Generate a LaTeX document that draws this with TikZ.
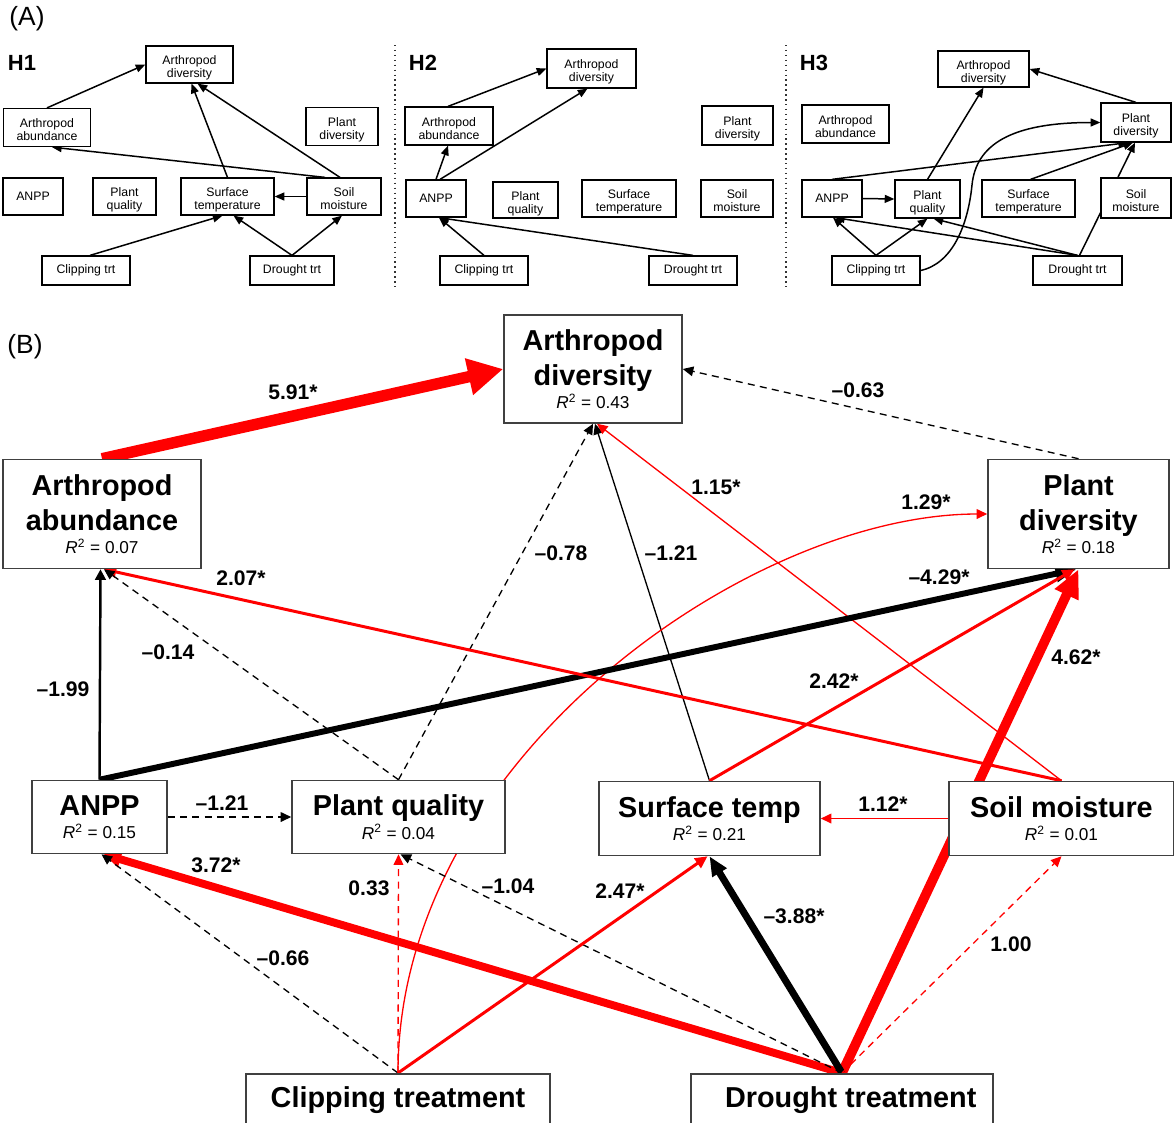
\documentclass[tikz,border=0pt]{standalone}
\usepackage{fontspec}
\setmainfont{Liberation Sans}
\usepackage{xcolor}
\definecolor{boxgray}{RGB}{64,64,64}
\usetikzlibrary{arrows.meta,calc,backgrounds}

\newcommand{\rsq}[1]{{\mdseries\fontsize{9.8}{11}\selectfont\textit{R}\textsuperscript{2} = #1}}

\begin{document}
\begin{tikzpicture}[x=0.02cm,y=-0.02cm,>={Triangle[length=5.5pt,width=4.5pt]},
	boxA/.style={draw,line width=0.7pt,fill=white,inner sep=0pt,align=center,font=\fontsize{7}{7.4}\selectfont},
	ln1/.style={},
	ln2/.style={text height=15.2pt,text depth=0pt},
	boxB/.style={draw=boxgray,line width=0.9pt,fill=white,inner sep=0pt,align=center,font=\bfseries\fontsize{16.4}{19.8}\selectfont},
	linkA/.style={line width=0.85pt,->},
	wt/.style n args={3}{line width=#1,-{Triangle[length=#2,width=#3]}},
	dsh/.style={line width=0.75pt,dash pattern=on 4pt off 3pt,-{Triangle[length=6pt,width=5.5pt]}},
	lab/.style={font=\bfseries\fontsize{12}{14}\selectfont,inner sep=0pt}]
	\useasboundingbox (0,0) rectangle (1174,1123);
	
	% (A) three hypotheses
	\node (tA) at (27,19) {\fontsize{15}{17}\selectfont (A)};
	\foreach \n/\x in {H1/22,H2/423,H3/814}
		\node[font=\bfseries\fontsize{12.5}{14}\selectfont] (\n) at (\x,63) {\n};
	\foreach \n/\x/\y/\w/\h/\s/\t in {
		ad1/189.5/64.5/87/37/ln2/{Arthropod\\diversity}, ab1/47/127.5/87/38/ln2/{Arthropod\\abundance},
		pd1/342/126.5/72/38/ln2/{Plant\\diversity}, an1/33/196.5/60/37/ln1/ANPP,
		pq1/124.5/196.5/63/37/ln2/{Plant\\quality}, st1/227.5/196.5/93/37/ln2/{Surface\\temperature},
		sm1/344/196.5/74/37/ln2/{Soil\\moisture}, ct1/86/270.5/88/29/ln1/{Clipping trt},
		dt1/292/270.5/84/29/ln1/{Drought trt},
		ad2/591.5/68.5/89/39/ln2/{Arthropod\\diversity}, ab2/449/126/88/38/ln2/{Arthropod\\abundance},
		pd2/737.5/125.5/71/39/ln2/{Plant\\diversity}, an2/436/198.5/60/37/ln1/ANPP,
		pq2/525.5/200/65/36/ln2/{Plant\\quality}, st2/629/198.5/94/37/ln2/{Surface\\temperature},
		sm2/737/198.5/72/37/ln2/{Soil\\moisture}, ct2/484/270.5/88/29/ln1/{Clipping trt},
		dt2/693/270.5/88/29/ln1/{Drought trt},
		ad3/983.5/69/91/36/ln2/{Arthropod\\diversity}, ab3/845.5/124/87/38/ln2/{Arthropod\\abundance},
		pd3/1136/122.5/70/39/ln2/{Plant\\diversity}, an3/832/198.5/60/37/ln1/ANPP,
		pq3/927.5/199/65/38/ln2/{Plant\\quality}, st3/1028.5/198.5/93/37/ln2/{Surface\\temperature},
		sm3/1136/198/70/40/ln2/{Soil\\moisture}, ct3/876/270.5/88/29/ln1/{Clipping trt},
		dt3/1077.5/270.5/89/29/ln1/{Drought trt}}
		\node[boxA,\s,minimum width=\w*0.02cm,minimum height=\h*0.02cm] (\n) at (\x,\y) {\t};
	\coordinate (bend3) at (972,185);
	
	% (B) fitted model
	\node (tB) at (25,347) {\fontsize{15}{17}\selectfont (B)};
	\node[boxB,minimum width=3.56cm,minimum height=2.16cm] (adiv) at (593,369) {Arthropod\\diversity\\[-6.5pt]\rsq{0.43}};
	\node[boxB,minimum width=3.96cm,minimum height=2.18cm] (aab) at (102,514) {Arthropod\\abundance\\[-6.5pt]\rsq{0.07}};
	\node[boxB,minimum width=3.62cm,minimum height=2.18cm] (pdiv) at (1078.5,514) {Plant\\diversity\\[-6.5pt]\rsq{0.18}};
	\node[boxB,minimum width=2.7cm,minimum height=1.46cm] (anpp) at (99.5,817) {ANPP\\[-6.5pt]\rsq{0.15}};
	\node[boxB,minimum width=4.26cm,minimum height=1.46cm] (pq) at (398.5,817) {Plant quality\\[-6.5pt]\rsq{0.04}};
	\node[boxB,minimum width=4.42cm,minimum height=1.48cm] (st) at (709.5,818.5) {Surface temp\\[-6.5pt]\rsq{0.21}};
	\node[boxB,minimum width=4.5cm,minimum height=1.48cm] (sm) at (1061.5,818.5) {Soil moisture\\[-6.5pt]\rsq{0.01}};
	\node[boxB,anchor=north,minimum width=6.08cm,text height=0.67cm,text depth=0.6cm] (clip) at (398,1073) {Clipping treatment};
	\node[boxB,anchor=north,minimum width=6.04cm,text height=0.67cm,text depth=0.6cm] (dt) at (842,1073) {\hspace*{10pt}Drought treatment};
	
	\foreach \t/\x/\y [count=\i] in {5.91*/293/392, --0.63/858/390, 1.15*/716/487, 1.29*/926/502,
		--0.78/561/553, --1.21/671/553, 2.07*/241/578, --4.29*/939/577, --0.14/168/652,
		4.62*/1076/657, 2.42*/834/681, --1.99/63/689, --1.21/222/803, 1.12*/883/804,
		3.72*/216/865, --1.04/508/886, 0.33/369/888, 2.47*/620/891, --3.88*/794/916,
		1.00/1011/944, --0.66/283/958}
		\node[lab] (lb\i) at (\x,\y) {\t};
	
	\begin{scope}[on background layer]
		\fill[white] (0,0) rectangle (1174,1123);
		\draw[dotted,line width=0.8pt,black!80] (395,45)--(395,287) (786,45)--(786,287);
		% H1
		\draw[linkA] (ab1.north) -- (ad1.west);
		\draw[linkA] (st1.north) -- ($(ad1.south)+(2,0)$);
		\draw[linkA] ($(sm1.north)+(-4,0)$) -- ($(ad1.south)+(8,0)$);
		\draw[linkA] ($(sm1.north)+(-19,0)$) -- ($(ab1.south)+(5,0)$);
		\draw[linkA] (sm1.west) -- (st1.east);
		\draw[linkA] ($(ct1.north)+(4,0)$) -- ($(st1.south)+(-5,0)$);
		\draw[linkA] (dt1.north) -- ($(st1.south)+(6,0)$);
		\draw[linkA] (dt1.north) -- ($(sm1.south)+(-2,0)$);
		% H2
		\draw[linkA] ($(ab2.north)+(-1,0)$) -- (ad2.west);
		\draw[linkA] (an2.north) -- ($(ab2.south)+(-1,0)$);
		\draw[linkA] ($(an2.north)+(4,0)$) -- ($(ad2.south)+(-4,0)$);
		\draw[linkA] (ct2.north) -- ($(an2.south)+(3,0)$);
		\draw[linkA] (dt2.north) -- ($(an2.south)+(3,0)$);
		% H3
		\draw[linkA] (pd3.north) -- (ad3.east);
		\draw[linkA] (pq3.north) -- (ad3.south);
		\draw[linkA] (an3.north) -- ($(pd3.south)+(-8,0)$);
		\draw[linkA] ($(st3.north)+(2,0)$) -- ($(pd3.south)+(-3,0)$);
		\draw[linkA] ($(dt3.north)+(2,0)$) -- ($(pd3.south)+(-1,0)$);
		\draw[linkA] (an3.east) -- (pq3.west);
		\draw[linkA] (ct3.north) -- ($(an3.south)+(1,0)$);
		\draw[linkA] (ct3.north) -- (pq3.south);
		\draw[linkA] (dt3.north) -- ($(an3.south)+(3,0)$);
		\draw[linkA] (dt3.north) -- ($(pq3.south)+(6,0)$);
		\draw[linkA] (ct3.east) .. controls +(32,-7) and +(-4,40) .. (bend3)
			.. controls +(4,-40) and +(-90,0) .. (pd3.west);
		% B
		\draw[red,wt={6.5pt}{20pt}{20pt}] (aab.north) -- (adiv.west);
		\draw[dsh] (pdiv.north) -- (adiv.east);
		\draw[dsh] (pq.north) -- (adiv.south);
		\draw[wt={0.75pt}{6pt}{5.5pt}] (st.north) -- ($(adiv.south)+(2,0)$);
		\draw[red,wt={0.75pt}{6pt}{5.5pt}] (sm.north) -- ($(adiv.south)+(4,0)$);
		\draw[red,wt={0.75pt}{6pt}{5.5pt}] (clip.north) .. controls +(0,-313) and +(-238,0) .. (pdiv.west);
		\draw[wt={3.4pt}{12pt}{9pt}] (anpp.north) -- ($(pdiv.south)+(-2,0)$);
		\draw[red,wt={1.7pt}{7pt}{6.5pt}] (st.north) -- ($(pdiv.south)+(-4,0)$);
		\draw[red,wt={5.5pt}{16pt}{14pt}] (dt.north) -- (pdiv.south);
		\draw[red,wt={1.7pt}{7pt}{6.5pt}] (sm.north) -- ($(aab.south)+(2,0)$);
		\draw[wt={1.4pt}{6pt}{6pt}] (anpp.north) -- ($(aab.south)+(-1.5,0)$);
		\draw[dsh] (pq.north) -- ($(aab.south)+(2,0)$);
		\draw[dsh] (anpp.east) -- (pq.west);
		\draw[red,wt={0.75pt}{6pt}{5.5pt}] (sm.west) -- (st.east);
		\draw[red,wt={4.5pt}{10pt}{9pt}] (dt.north) -- ($(anpp.south)+(4,0)$);
		\draw[dsh] (clip.north) -- ($(anpp.south)+(2,0)$);
		\draw[dsh,red] (clip.north) -- (pq.south);
		\draw[dsh] (dt.north) -- ($(pq.south)+(2,0)$);
		\draw[red,wt={1.7pt}{7pt}{6.5pt}] (clip.north) -- ($(st.south)+(-2,0)$);
		\draw[wt={4pt}{11pt}{9pt}] (dt.north) -- (st.south);
		\draw[dsh,red] (dt.north) -- (sm.south);
	\end{scope}
\end{tikzpicture}
\end{document}
